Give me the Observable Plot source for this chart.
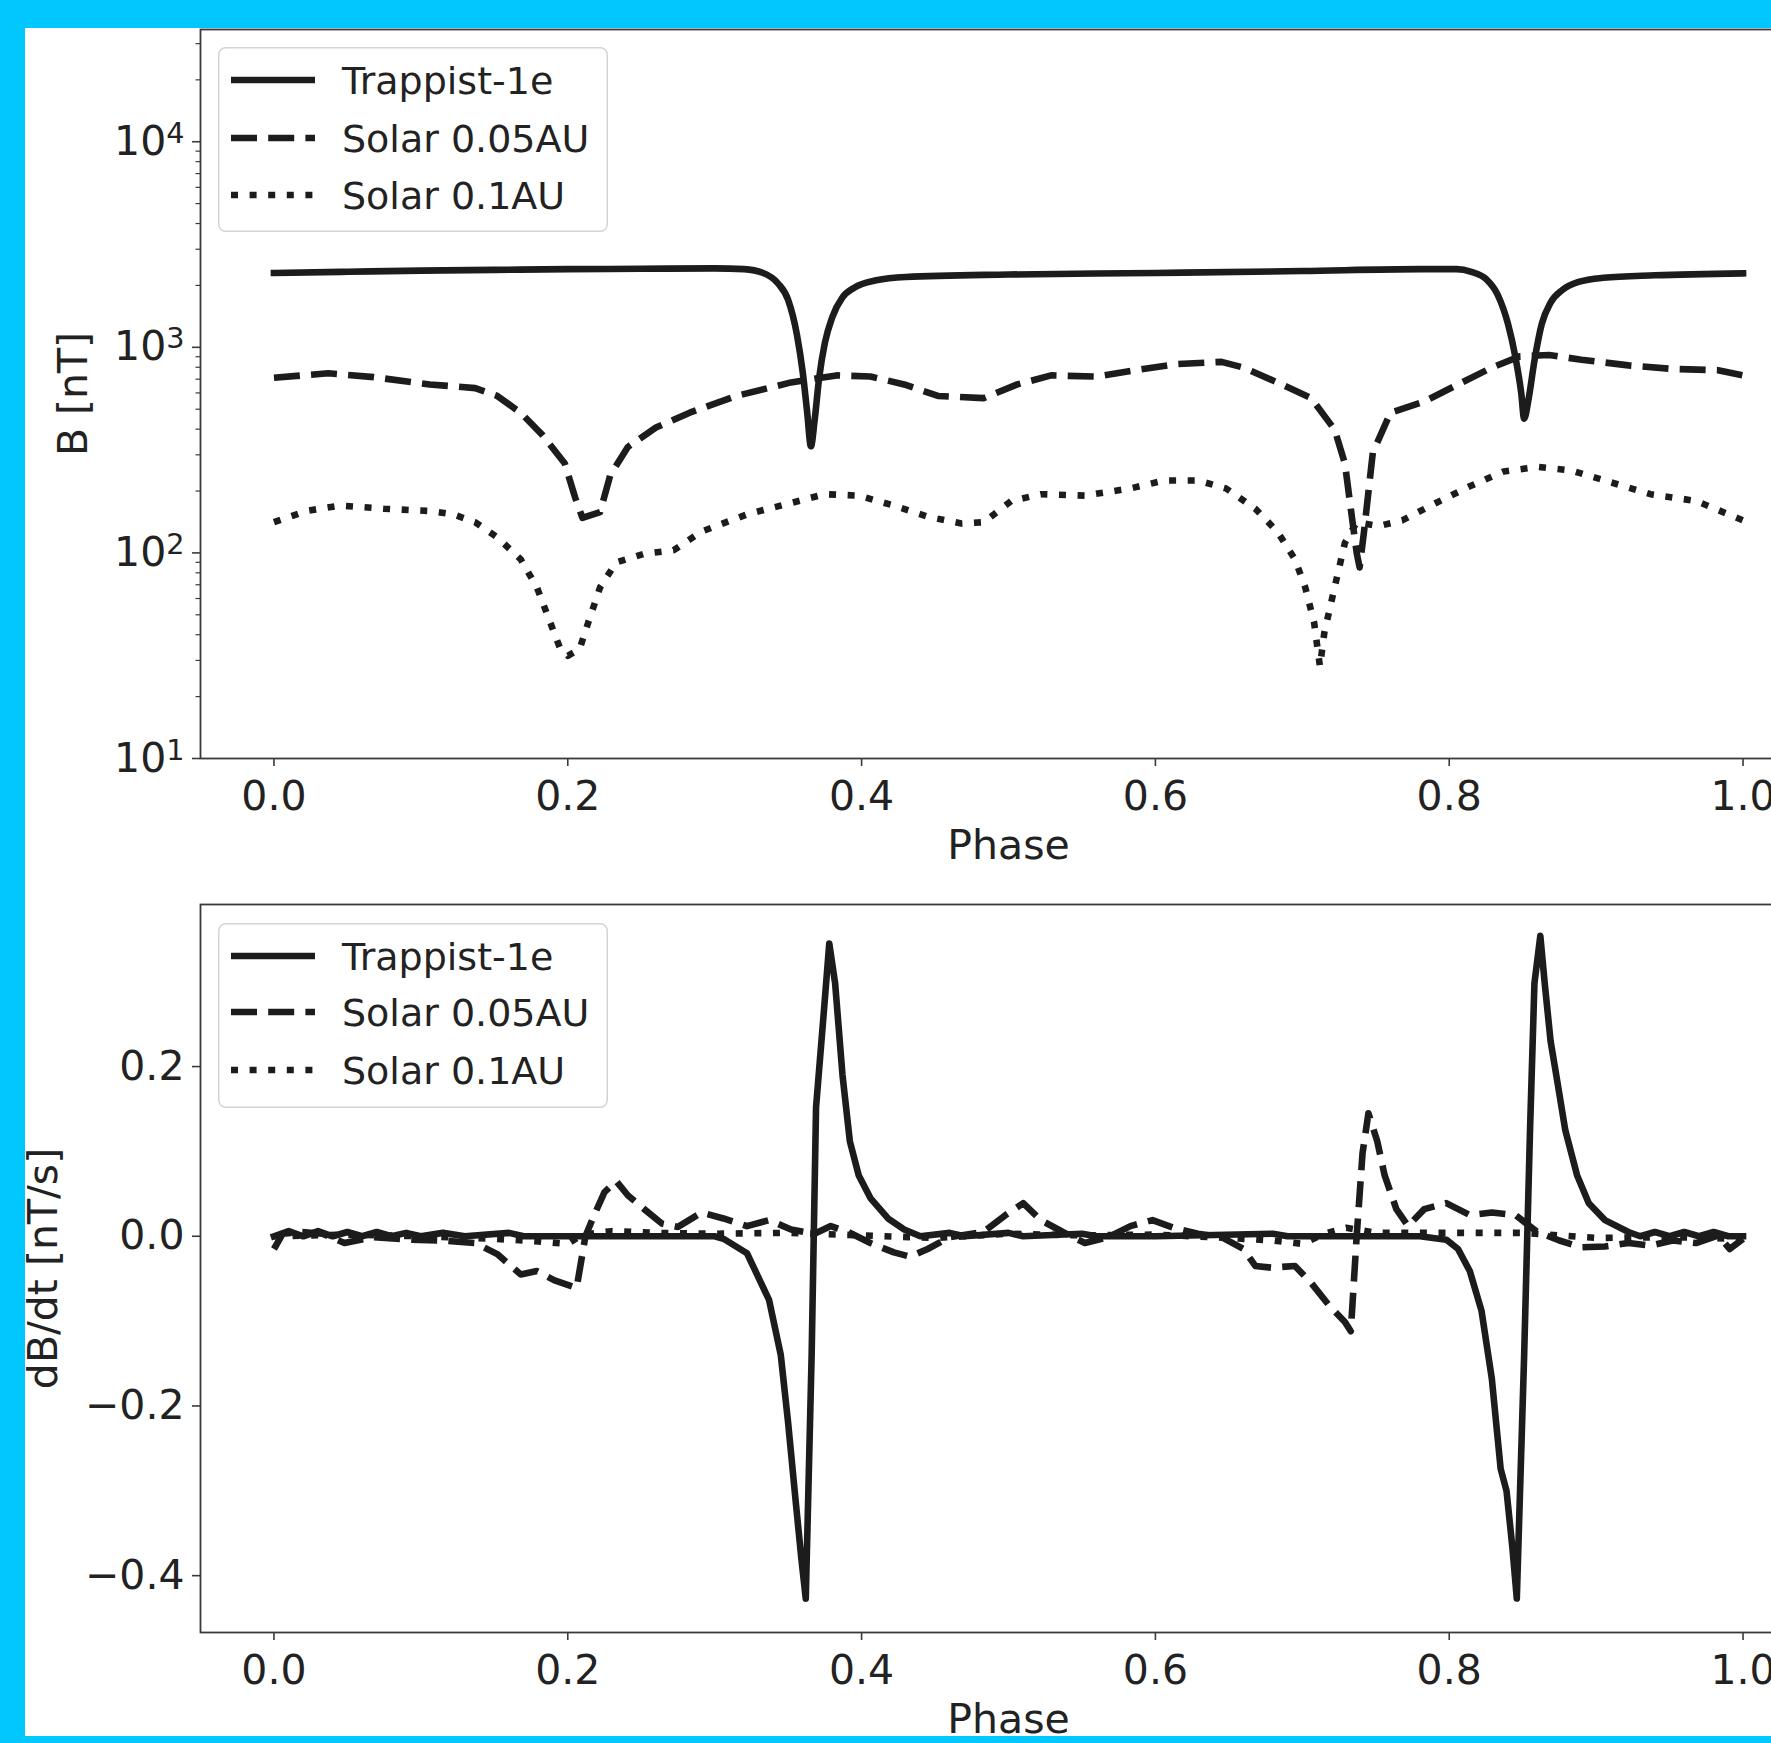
<!DOCTYPE html>
<html>
<head>
<meta charset="utf-8">
<script src="https://cdn.jsdelivr.net/npm/d3@7"></script>
<script src="https://cdn.jsdelivr.net/npm/@observablehq/plot@0.6"></script>
<style>
  html, body { margin: 0; padding: 0; width: 1771px; height: 1743px; overflow: hidden; background: #ffffff; }
  body { position: relative; font-family: "DejaVu Sans", sans-serif; }
  .panel { position: absolute; left: 0; width: 1830px; }
  .panel svg { max-width: none !important; width: 1830px !important; }
  .legend { position: absolute; }
  .cyan { position: absolute; background: #00c8ff; z-index: 10; }
</style>
</head>
<body>
<div id="top" class="panel" style="top:0px"></div>
<div id="bottom" class="panel" style="top:870px"></div>
<div id="legTop" class="legend" style="left:218px; top:47px;"></div>
<div id="legBottom" class="legend" style="left:218px; top:923px;"></div>
<div class="cyan" style="left:0; top:0; width:25px; height:1743px;"></div>
<div class="cyan" style="left:0; top:0; width:1771px; height:28px;"></div>
<div class="cyan" style="left:0; top:1736px; width:1771px; height:7px;"></div>
<script>
// ---------- DATA ----------
const seriesNames = ["Trappist-1e", "Solar 0.05AU", "Solar 0.1AU"];
const phaseTicks = [0.0, 0.2, 0.4, 0.6, 0.8, 1.0];
const bMajorTicks = [10, 100, 1000, 10000];
const bMinorTicks = [20, 30, 40, 50, 60, 70, 80, 90,
                     200, 300, 400, 500, 600, 700, 800, 900,
                     2000, 3000, 4000, 5000, 6000, 7000, 8000, 9000,
                     20000, 30000];
const dbTicks = [-0.4, -0.2, 0.0, 0.2];
const labelB = "B [nT]";
const labelDB = "dB/dt [nT/s]";
const labelPhase = "Phase";

// Top panel: B [nT]
const trapBPhase = [0, 0.05, 0.1, 0.15, 0.2, 0.25, 0.3, 0.32, 0.333, 0.343, 0.35, 0.356, 0.36, 0.363, 0.3655, 0.368, 0.371, 0.375, 0.38, 0.387, 0.395, 0.41, 0.43, 0.5, 0.6, 0.7, 0.78, 0.805, 0.815, 0.825, 0.833, 0.84, 0.845, 0.849, 0.851, 0.854, 0.858, 0.863, 0.869, 0.877, 0.888, 0.905, 0.94, 1.0];
const trapB      = [2300, 2330, 2360, 2380, 2400, 2410, 2420, 2400, 2300, 2050, 1700, 1150, 750, 480, 330, 440, 700, 1050, 1400, 1750, 1950, 2120, 2200, 2260, 2300, 2350, 2400, 2400, 2330, 2150, 1800, 1300, 900, 600, 450, 560, 860, 1300, 1650, 1900, 2080, 2180, 2240, 2290];

const sol05BPhase = [0, 0.037, 0.068, 0.106, 0.137, 0.152, 0.168, 0.183, 0.198, 0.205, 0.21, 0.222, 0.229, 0.241, 0.26, 0.283, 0.314, 0.352, 0.383, 0.406, 0.429, 0.452, 0.483, 0.506, 0.529, 0.56, 0.583, 0.614, 0.645, 0.66, 0.683, 0.706, 0.722, 0.729, 0.733, 0.737, 0.739, 0.742, 0.748, 0.76, 0.783, 0.806, 0.829, 0.848, 0.868, 0.89, 0.922, 0.952, 0.983, 1.0];
const sol05B      = [711, 748, 716, 660, 633, 580, 480, 373, 272, 186, 148, 158, 240, 328, 407, 481, 578, 675, 730, 721, 660, 580, 566, 660, 730, 720, 767, 828, 850, 797, 675, 566, 398, 272, 164, 100, 85, 127, 308, 481, 545, 660, 797, 904, 918, 870, 817, 785, 774, 730];

const sol10BPhase = [0, 0.022, 0.045, 0.075, 0.106, 0.122, 0.137, 0.152, 0.168, 0.179, 0.188, 0.195, 0.2, 0.208, 0.214, 0.222, 0.233, 0.252, 0.272, 0.291, 0.322, 0.352, 0.375, 0.398, 0.422, 0.445, 0.468, 0.483, 0.502, 0.522, 0.552, 0.583, 0.606, 0.629, 0.648, 0.668, 0.683, 0.695, 0.702, 0.708, 0.712, 0.715, 0.722, 0.729, 0.737, 0.752, 0.768, 0.791, 0.814, 0.837, 0.86, 0.883, 0.906, 0.937, 0.968, 1.0];
const sol10B      = [141, 160, 170, 164, 160, 154, 141, 119, 93, 68, 46, 34, 31.6, 34, 46, 68, 90, 99, 103, 127, 154, 175, 193, 190, 170, 150, 139, 141, 179, 193, 190, 206, 225, 225, 206, 164, 127, 93, 68, 46, 28, 41, 68, 112, 141, 135, 144, 175, 211, 249, 262, 252, 225, 193, 179, 144];

// Bottom panel: dB/dt [nT/s]
const trapDPhase = [0, 0.01, 0.02, 0.03, 0.04, 0.05, 0.06, 0.07, 0.08, 0.09, 0.1, 0.115, 0.13, 0.16, 0.17, 0.2, 0.3, 0.306, 0.322, 0.337, 0.345, 0.35, 0.355, 0.359, 0.362, 0.366, 0.369, 0.374, 0.378, 0.382, 0.387, 0.392, 0.398, 0.406, 0.418, 0.429, 0.44, 0.46, 0.47, 0.5, 0.51, 0.55, 0.56, 0.6, 0.68, 0.69, 0.78, 0.798, 0.806, 0.814, 0.822, 0.829, 0.835, 0.839, 0.843, 0.846, 0.851, 0.855, 0.858, 0.862, 0.865, 0.869, 0.874, 0.879, 0.887, 0.895, 0.906, 0.922, 0.93, 0.94, 0.95, 0.96, 0.97, 0.98, 0.99, 1.0];
const trapD      = [0, 0.006, 0, 0.006, 0, 0.005, 0, 0.005, 0, 0.004, 0, 0.004, 0, 0.004, 0, 0, 0, -0.003, -0.02, -0.075, -0.14, -0.22, -0.31, -0.38, -0.427, -0.14, 0.152, 0.258, 0.345, 0.298, 0.19, 0.112, 0.072, 0.045, 0.021, 0.008, 0, 0.004, 0, 0.004, 0, 0.003, 0, 0, 0.003, 0, 0, -0.004, -0.015, -0.041, -0.088, -0.168, -0.274, -0.3, -0.367, -0.427, -0.14, 0.125, 0.298, 0.354, 0.298, 0.23, 0.178, 0.125, 0.072, 0.039, 0.019, 0.005, 0, 0.005, 0, 0.005, 0, 0.005, 0, 0];

const sol05DPhase = [0, 0.006, 0.018, 0.033, 0.048, 0.068, 0.091, 0.114, 0.137, 0.152, 0.168, 0.179, 0.191, 0.206, 0.212, 0.218, 0.225, 0.233, 0.241, 0.252, 0.264, 0.275, 0.291, 0.306, 0.322, 0.337, 0.352, 0.368, 0.379, 0.391, 0.406, 0.422, 0.433, 0.445, 0.46, 0.483, 0.498, 0.51, 0.522, 0.537, 0.552, 0.568, 0.583, 0.598, 0.614, 0.629, 0.645, 0.66, 0.668, 0.679, 0.695, 0.706, 0.718, 0.729, 0.733, 0.737, 0.741, 0.745, 0.751, 0.756, 0.764, 0.772, 0.783, 0.798, 0.814, 0.829, 0.845, 0.86, 0.875, 0.89, 0.906, 0.922, 0.937, 0.952, 0.968, 0.983, 0.991, 1.0];
const sol05D      = [-0.015, 0.003, 0.005, 0.003, -0.008, -0.001, -0.004, -0.005, -0.008, -0.021, -0.045, -0.041, -0.052, -0.061, 0, 0.025, 0.052, 0.065, 0.048, 0.032, 0.015, 0.011, 0.028, 0.021, 0.012, 0.019, 0.008, 0.003, 0.012, 0.005, -0.008, -0.019, -0.024, -0.015, -0.001, 0.005, 0.025, 0.039, 0.019, 0.005, -0.008, -0.001, 0.012, 0.019, 0.009, 0.003, -0.001, -0.015, -0.035, -0.037, -0.035, -0.055, -0.081, -0.101, -0.112, 0, 0.098, 0.145, 0.112, 0.072, 0.032, 0.012, 0.032, 0.039, 0.025, 0.028, 0.025, 0.005, -0.005, -0.013, -0.012, -0.008, -0.011, -0.005, -0.008, 0.001, -0.015, -0.003];

const sol10DPhase = [0, 0.05, 0.1, 0.15, 0.18, 0.2, 0.21, 0.23, 0.26, 0.3, 0.35, 0.4, 0.45, 0.5, 0.55, 0.6, 0.65, 0.68, 0.7, 0.715, 0.73, 0.75, 0.8, 0.85, 0.9, 0.95, 1.0];
const sol10D      = [0, 0.002, 0, -0.003, -0.006, -0.009, 0.002, 0.006, 0.004, 0.003, 0.004, 0.001, -0.002, 0.003, 0.001, 0.002, -0.002, -0.005, -0.009, 0.003, 0.01, 0.004, 0.004, 0.004, -0.002, -0.001, -0.003];

// ---------- STYLE ----------
const ink = "#1c1c1c";
const spine = "#3a3a3a";
const lw = 6.6;
const dashes = [null, "26,11.2", "7,11.6"];
const fontMain = 41;
const fontLegend = 38;
const sup = {1: "\u00b9", 2: "\u00b2", 3: "\u00b3", 4: "\u2074"};

const rows = (px, vy) => px.map((p, i) => ({phase: p, v: vy[i]}));
const topSeries = [rows(trapBPhase, trapB), rows(sol05BPhase, sol05B), rows(sol10BPhase, sol10B)];
const botSeries = [rows(trapDPhase, trapD), rows(sol05DPhase, sol05D), rows(sol10DPhase, sol10D)];

function lineMarks(series, smoothFirst) {
  return series.map((data, i) => Plot.line(data, {
    x: "phase", y: "v", stroke: ink, strokeWidth: lw,
    curve: (smoothFirst && i === 0) ? "monotone-x" : "linear",
    strokeDasharray: dashes[i] || undefined,
    strokeLinecap: i === 0 ? "square" : "butt",
    strokeLinejoin: "round"
  }));
}

const common = {
  width: 1830,
  marginLeft: 200,
  marginRight: 14,
  style: {fontFamily: "DejaVu Sans", fontSize: fontMain + "px", color: "#222", background: "transparent", overflow: "visible", maxWidth: "none"}
};

const xAxis = Plot.axisX({ticks: phaseTicks, tickFormat: d3.format(".1f"), tickSize: 8, tickPadding: 14, fontSize: fontMain, label: null, stroke: spine, strokeWidth: 1.6});

const topPlot = Plot.plot({
  ...common,
  height: 870,
  marginTop: 29,
  marginBottom: 112,
  x: {domain: [-0.05, 1.05]},
  y: {type: "log", domain: [10, 35150]},
  marks: [
    ...lineMarks(topSeries, true),
    Plot.frame({stroke: spine, strokeWidth: 1.8}),
    xAxis,
    Plot.axisY({ticks: bMajorTicks, tickFormat: d => "10" + sup[Math.round(Math.log10(d))], tickSize: 8, tickPadding: 8, fontSize: fontMain, label: null, stroke: spine, strokeWidth: 1.6}),
    Plot.axisY({ticks: bMinorTicks, tickFormat: () => "", tickSize: 4.5, label: null, stroke: spine, strokeWidth: 1.2}),
    Plot.text([labelPhase], {text: d => d, frameAnchor: "bottom", dy: 87, fontSize: fontMain, lineAnchor: "middle", textAnchor: "middle", fill: "#222"}),
    Plot.text([labelB], {text: d => d, frameAnchor: "left", dx: -127, rotate: -90, fontSize: fontMain, lineAnchor: "middle", textAnchor: "middle", fill: "#222"})
  ]
});
document.getElementById("top").append(topPlot);

// render "10^k" tick labels with a real raised superscript
const supDigits = {"\u00b9": "1", "\u00b2": "2", "\u00b3": "3", "\u2074": "4"};
topPlot.querySelectorAll("text").forEach(t => {
  const s = t.textContent;
  if (/^10[\u00b9\u00b2\u00b3\u2074]$/.test(s)) {
    const d = supDigits[s[2]];
    t.textContent = "10";
    const ts = document.createElementNS("http://www.w3.org/2000/svg", "tspan");
    ts.setAttribute("dy", "-0.42em");
    ts.setAttribute("font-size", "0.7em");
    ts.textContent = d;
    t.appendChild(ts);
  }
});

const botPlot = Plot.plot({
  ...common,
  height: 873,
  marginTop: 34,
  marginBottom: 111,
  x: {domain: [-0.05, 1.05]},
  y: {domain: [-0.467, 0.391]},
  marks: [
    ...lineMarks(botSeries, false),
    Plot.frame({stroke: spine, strokeWidth: 1.8}),
    xAxis,
    Plot.axisY({ticks: dbTicks, tickFormat: d3.format(".1f"), tickSize: 8, tickPadding: 8, fontSize: fontMain, label: null, stroke: spine, strokeWidth: 1.6}),
    Plot.text([labelPhase], {text: d => d, frameAnchor: "bottom", dy: 87, fontSize: fontMain, lineAnchor: "middle", textAnchor: "middle", fill: "#222"}),
    Plot.text([labelDB], {text: d => d, frameAnchor: "left", dx: -157, rotate: -90, fontSize: fontMain, lineAnchor: "middle", textAnchor: "middle", fill: "#222"})
  ]
});
document.getElementById("bottom").append(botPlot);

// ---------- LEGENDS ----------
function buildLegend(id, rowYs) {
  const w = 390, h = 185;
  const svg = d3.create("svg").attr("width", w).attr("height", h)
    .style("font-family", "DejaVu Sans").style("display", "block");
  svg.append("rect").attr("x", 0.75).attr("y", 0.75).attr("width", w - 1.5).attr("height", h - 1.5)
    .attr("rx", 7).attr("ry", 7).attr("fill", "rgba(255,255,255,0.8)").attr("stroke", "#d4d4d4").attr("stroke-width", 1.5);
  seriesNames.forEach((name, i) => {
    const y = rowYs[i];
    const ln = svg.append("line").attr("x1", 13).attr("x2", 97).attr("y1", y).attr("y2", y)
      .attr("stroke", ink).attr("stroke-width", lw).attr("stroke-linecap", "butt");
    if (dashes[i]) ln.attr("stroke-dasharray", dashes[i]);
    svg.append("text").attr("x", 124).attr("y", y).attr("dy", "0.36em")
      .attr("font-size", fontLegend).attr("fill", "#222").text(name);
  });
  document.getElementById(id).append(svg.node());
}
buildLegend("legTop", [33, 91, 148]);
buildLegend("legBottom", [33, 89, 147]);
</script>
</body>
</html>
